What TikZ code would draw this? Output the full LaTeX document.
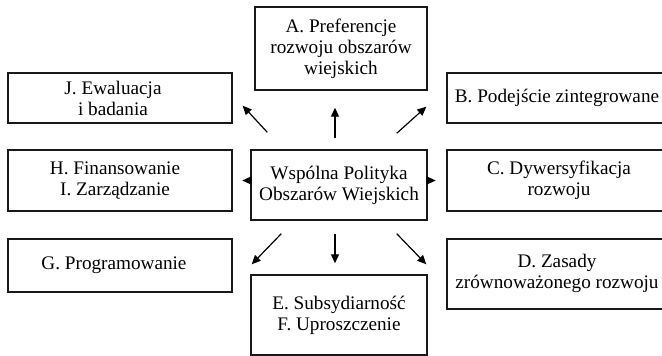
\documentclass[tikz,border=0pt]{standalone}
\usepackage{fontspec}
\setmainfont{Liberation Serif}
\usetikzlibrary{arrows.meta,calc}
\begin{document}
\begin{tikzpicture}[x=1pt,y=-1pt,
  box/.style={draw=black!90,line width=1.4pt,inner sep=0pt,align=center,
    font=\fontsize{19.2}{21}\selectfont},
  txt/.style={inner sep=0pt,align=center,font=\fontsize{19.2}{21}\selectfont},
  arr/.style={line width=1.2pt,-{Triangle[length=9pt,width=8pt]}}]
\clip (0,0) rectangle (662,356);
% boxes
\node[box,minimum width=172pt,minimum height=83pt] (A) at (341,48.5) {A. Preferencje\\rozwoju obszarów\\wiejskich};
\node[box,minimum width=224pt,minimum height=50pt] (J) at (120,98) {};
\node[txt] (Jt) at (113,98) {J. Ewaluacja\\i badania};
\node[box,minimum width=224pt,minimum height=50pt] (B) at (559,98) {};
\node[txt] (Bt) at (557,98) {B. Podejście zintegrowane};
\node[box,minimum width=224pt,minimum height=61pt] (H) at (120,180.5) {};
\node[txt] (Ht) at (115,180.5) {H. Finansowanie\\I. Zarządzanie};
\node[box,minimum width=176pt,minimum height=70pt] (ctr) at (339,185) {Wspólna Polityka\\Obszarów Wiejskich};
\node[box,minimum width=224pt,minimum height=61pt] (C) at (559,180.5) {C. Dywersyfikacja\\rozwoju};
\node[box,minimum width=224pt,minimum height=53pt] (G) at (120,265.5) {};
\node[txt] (Gt) at (114,265.5) {G. Programowanie};
\node[box,minimum width=176pt,minimum height=80pt] (E) at (339,315) {E. Subsydiarność\\F. Uproszczenie};
\node[box,minimum width=224pt,minimum height=70pt] (D) at (559,274) {};
\node[txt] (Dt) at (557,273) {D. Zasady\\zrównoważonego rozwoju};
% arrows
\draw[arr] ($(ctr.north west)+(17,-17)$) -- ($(J.south east)+(10,-18)$);
\draw[arr] ($(ctr.north)+(-4,-11)$) -- ($(A.south)+(-6,17)$);
\draw[arr] ($(ctr.north east)+(-31,-16)$) -- ($(B.south west)+(-20,-17)$);
\draw[arr] ($(ctr.south west)+(31,13)$) -- ($(G.north east)+(19,26)$);
\draw[arr] ($(ctr.south)+(-4,13)$) -- ($(E.north)+(-4,-11)$);
\draw[arr] ($(ctr.south east)+(-31,13)$) -- ($(D.north west)+(-20,26)$);
\coordinate (hl) at ($(ctr.west |- H.east)+(-8,0)$);
\coordinate (hr) at ($(ctr.east |- C.west)+(8,0)$);
\draw[arr] (ctr.west |- H.east) -- (hl);
\draw[arr] (ctr.east |- C.west) -- (hr);
\end{tikzpicture}
\end{document}
